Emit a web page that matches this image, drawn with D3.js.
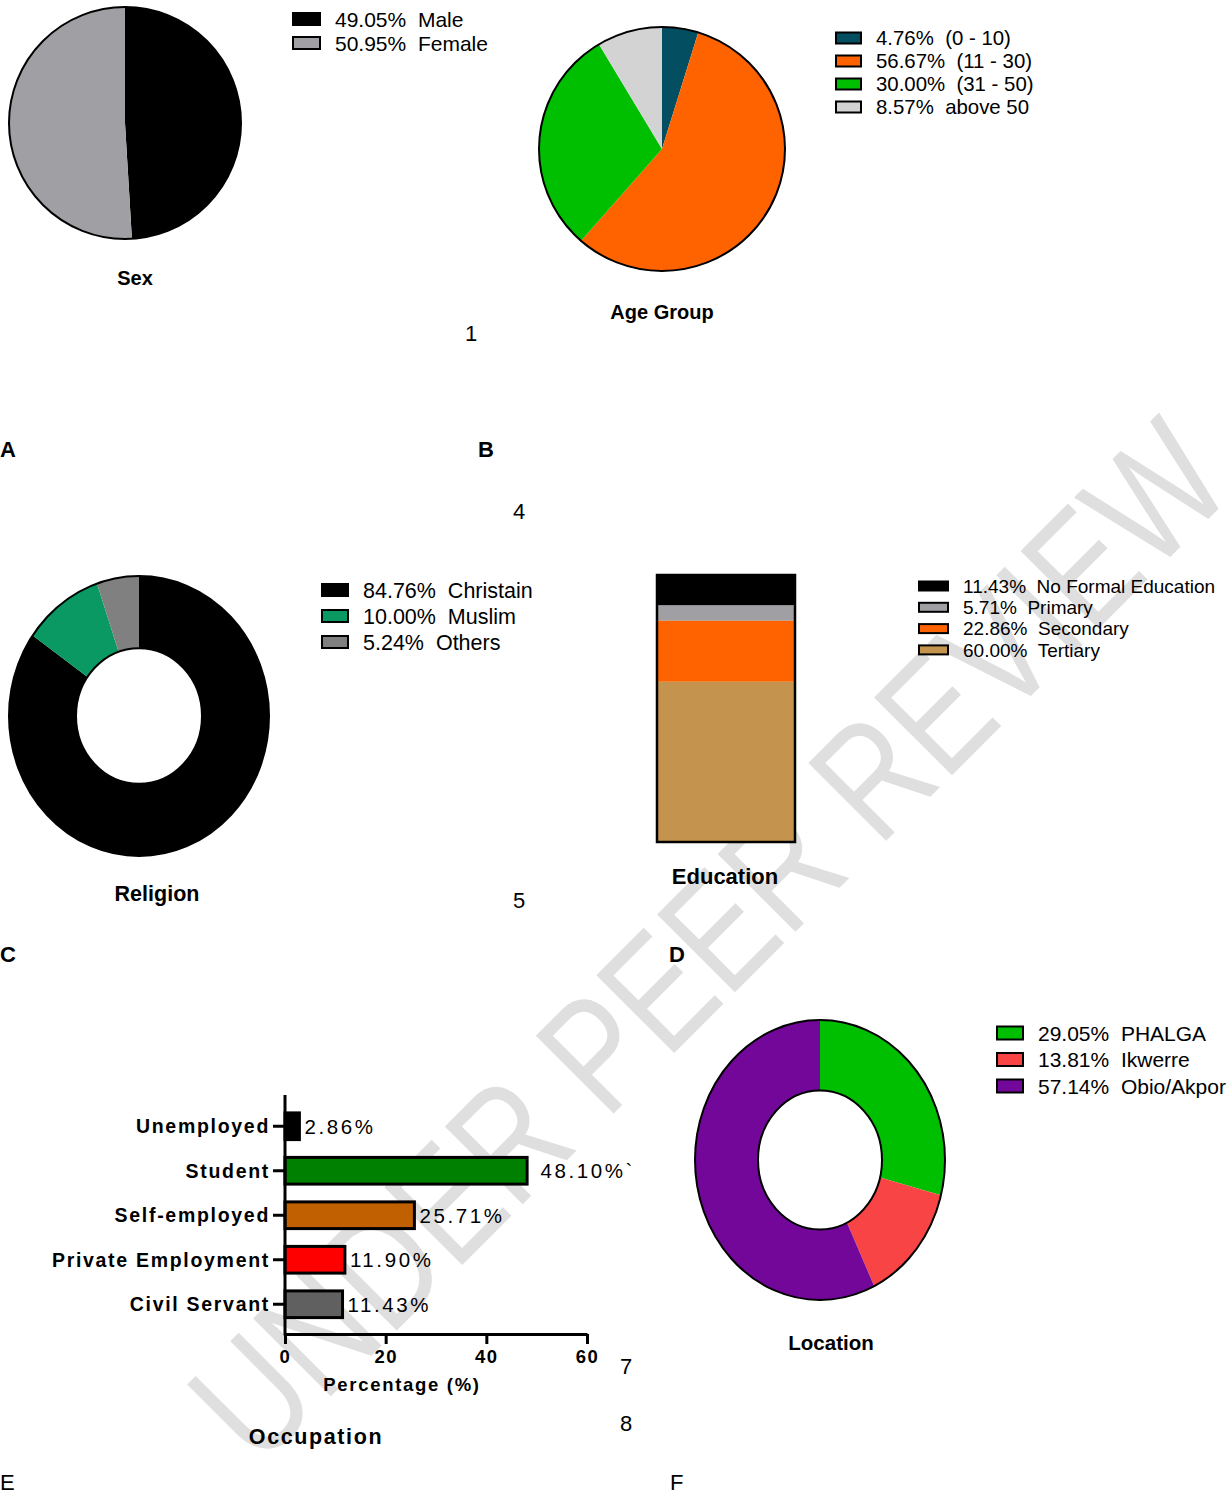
<!DOCTYPE html>
<html>
<head>
<meta charset="utf-8">
<script src="https://cdn.jsdelivr.net/npm/d3@7"></script>
<style>
  body { margin: 0; background: #fff; }
  svg { display: block; font-family: "Liberation Sans", Arial, sans-serif; }
  text { white-space: pre; }
</style>
</head>
<body>
<svg id="fig" width="1228" height="1497"></svg>
<script>
// panel data
const sexLabels = ["Male", "Female"];
const sexValues = [49.05, 50.95];
const sexColors = ["#000000", "#a0a0a4"];

const ageLabels = ["(0 - 10)", "(11 - 30)", "(31 - 50)", "above 50"];
const ageValues = [4.76, 56.67, 30.00, 8.57];
const ageColors = ["#044e62", "#ff6300", "#00bf00", "#d3d3d3"];

const religionLabels = ["Christain", "Muslim", "Others"];
const religionValues = [84.76, 10.00, 5.24];
const religionColors = ["#000000", "#0a9963", "#808080"];

const eduLabels = ["No Formal Education", "Primary", "Secondary", "Tertiary"];
const eduValues = [11.43, 5.71, 22.86, 60.00];
const eduColors = ["#000000", "#a0a0a4", "#ff6300", "#c4944f"];

const occLabels = ["Unemployed", "Student", "Self-employed", "Private Employment", "Civil Servant"];
const occValues = [2.86, 48.10, 25.71, 11.90, 11.43];
const occText = ["2.86%", " 48.10%`", "25.71%", "11.90%", "11.43%"];
const occColors = ["#000000", "#008000", "#c06000", "#ff0000", "#606060"];
const occTicks = [0, 20, 40, 60];

const locLabels = ["PHALGA", "Ikwerre", "Obio/Akpor"];
const locValues = [29.05, 13.81, 57.14];
const locColors = ["#00bf00", "#f84444", "#72079a"];

const svg = d3.select("#fig");

// watermark sits behind everything
svg.append("g")
  .attr("transform", "translate(708,940) rotate(-45)")
  .append("text")
  .attr("x", 0).attr("y", 56)
  .attr("text-anchor", "middle")
  .attr("font-size", 160)
  .attr("textLength", 1385)
  .attr("lengthAdjust", "spacingAndGlyphs")
  .attr("fill", "#dfdfdf")
  .text("UNDER PEER REVIEW");

// pie / donut helper, ellipse made by y scaling
function drawPie(cx, cy, rx, ry, inner, values, colors) {
  const g = svg.append("g")
    .attr("transform", `translate(${cx},${cy}) scale(1,${ry / rx})`);
  const arcs = d3.pie().sort(null)(values);
  const arc = d3.arc().innerRadius(inner).outerRadius(rx);
  g.selectAll("path.slice")
    .data(arcs)
    .join("path")
    .attr("class", "slice")
    .attr("d", arc)
    .attr("fill", (d, i) => colors[i]);
  g.append("circle").attr("r", rx)
    .attr("fill", "none").attr("stroke", "#000").attr("stroke-width", 2)
    .attr("vector-effect", "non-scaling-stroke");
  if (inner > 0) {
    g.append("circle").attr("r", inner)
      .attr("fill", "none").attr("stroke", "#000").attr("stroke-width", 2)
      .attr("vector-effect", "non-scaling-stroke");
  }
}

function drawLegend(x, y, step, sw, sh, fs, values, labels, colors) {
  const g = svg.append("g").attr("transform", `translate(${x},${y})`);
  const rows = g.selectAll("g").data(values).join("g")
    .attr("transform", (d, i) => `translate(0,${i * step})`);
  rows.append("rect")
    .attr("x", 0).attr("y", -sh / 2).attr("width", sw).attr("height", sh)
    .attr("fill", (d, i) => colors[i]).attr("stroke", "#000").attr("stroke-width", 2);
  rows.append("text")
    .attr("x", sw + 15).attr("y", fs * 0.36)
    .attr("font-size", fs)
    .text((d, i) => d.toFixed(2) + "%  " + labels[i]);
}

function label(x, y, txt, fs, weight, anchor) {
  svg.append("text").attr("x", x).attr("y", y)
    .attr("font-size", fs).attr("font-weight", weight || "normal")
    .attr("text-anchor", anchor || "start")
    .text(txt);
}

// A: sex
drawPie(125, 123, 116, 116, 0, sexValues, sexColors);
drawLegend(293, 19, 24, 27, 12, 21, sexValues, sexLabels, sexColors);
label(135, 285, "Sex", 20, "bold", "middle");

// B: age group
drawPie(662, 149, 123, 122, 0, ageValues, ageColors);
drawLegend(836, 38, 23, 25, 11, 20.4, ageValues, ageLabels, ageColors);
label(662, 319, "Age Group", 20, "bold", "middle");

// C: religion
drawPie(139, 716, 130, 140, 63, religionValues, religionColors);
drawLegend(322, 590, 26, 26, 12, 21.5, religionValues, religionLabels, religionColors);
label(157, 901, "Religion", 21.5, "bold", "middle");

// D: education stacked bar
const eduY = d3.scaleLinear().domain([0, 100]).range([575, 842]);
const eduCum = d3.cumsum(eduValues);
const eduG = svg.append("g");
eduG.selectAll("rect").data(eduValues).join("rect")
  .attr("x", 657).attr("width", 138)
  .attr("y", (d, i) => eduY(eduCum[i] - d))
  .attr("height", d => eduY(d) - eduY(0))
  .attr("fill", (d, i) => eduColors[i]);
eduG.append("rect")
  .attr("x", 657).attr("width", 138)
  .attr("y", eduY(0)).attr("height", eduY(100) - eduY(0))
  .attr("fill", "none").attr("stroke", "#000").attr("stroke-width", 2.5);
drawLegend(919, 586, 21.3, 29, 9, 19, eduValues, eduLabels, eduColors);
label(725, 884, "Education", 22, "bold", "middle");

// E: occupation horizontal bars
const occX = d3.scaleLinear().domain([0, 60]).range([285, 587]);
const occY = d3.scaleBand().domain(occLabels).range([1104, 1326.5])
  .paddingInner(0.4).paddingOuter(0.2);
const occG = svg.append("g");
occG.selectAll("rect").data(occValues).join("rect")
  .attr("x", occX(0))
  .attr("y", (d, i) => occY(occLabels[i]))
  .attr("width", d => occX(d) - occX(0))
  .attr("height", occY.bandwidth())
  .attr("fill", (d, i) => occColors[i])
  .attr("stroke", "#000").attr("stroke-width", 3);
occG.selectAll("text.val").data(occValues).join("text")
  .attr("class", "val")
  .attr("x", d => occX(d) + 5)
  .attr("y", (d, i) => occY(occLabels[i]) + occY.bandwidth() / 2 + 7.5)
  .attr("font-size", 20.5).attr("letter-spacing", 2.6)
  .text((d, i) => occText[i]);

const yAxis = occG.append("g")
  .attr("transform", `translate(${occX(0)},0)`)
  .call(d3.axisLeft(occY).tickSize(12).tickPadding(3));
yAxis.select(".domain").remove();
yAxis.selectAll(".tick line").attr("stroke-width", 3);
yAxis.selectAll(".tick text")
  .attr("font-size", 19.5).attr("font-weight", "bold").attr("letter-spacing", 1.7)
  .attr("dy", "0.36em")
  .attr("font-family", "'Liberation Sans', Arial, sans-serif").attr("fill", "#000");
occG.append("line")
  .attr("x1", occX(0)).attr("x2", occX(0)).attr("y1", 1095).attr("y2", 1335.5)
  .attr("stroke", "#000").attr("stroke-width", 3);

const xAxis = occG.append("g")
  .attr("transform", "translate(0,1334)")
  .call(d3.axisBottom(occX).tickValues(occTicks).tickSize(10).tickSizeOuter(0).tickPadding(6));
xAxis.select(".domain").attr("stroke-width", 3);
xAxis.selectAll(".tick line").attr("stroke-width", 3);
xAxis.selectAll(".tick text")
  .attr("font-size", 18.5).attr("font-weight", "bold").attr("letter-spacing", 1.5)
  .attr("font-family", "'Liberation Sans', Arial, sans-serif").attr("fill", "#000");
svg.append("text").attr("x", 402).attr("y", 1391)
  .attr("text-anchor", "middle").attr("font-size", 18.5).attr("font-weight", "bold")
  .attr("letter-spacing", 1.7).text("Percentage (%)");
svg.append("text").attr("x", 316).attr("y", 1444)
  .attr("text-anchor", "middle").attr("font-size", 21.5).attr("font-weight", "bold")
  .attr("letter-spacing", 1.6).text("Occupation");

// F: location
drawPie(820, 1160, 125, 140, 62, locValues, locColors);
drawLegend(997, 1033, 26.5, 26, 13, 21, locValues, locLabels, locColors);
label(831, 1350, "Location", 20.5, "bold", "middle");

// panel letters and stray page numbers
label(0, 457, "A", 22, "bold");
label(478, 457, "B", 22, "bold");
label(0, 962, "C", 22, "bold");
label(669, 962, "D", 22, "bold");
label(0, 1490, "E", 22);
label(670, 1490, "F", 22);
label(471, 341, "1", 22, "normal", "middle");
label(519, 519, "4", 22, "normal", "middle");
label(519, 908, "5", 22, "normal", "middle");
label(626, 1374, "7", 22, "normal", "middle");
label(626, 1431, "8", 22, "normal", "middle");
</script>
</body>
</html>
